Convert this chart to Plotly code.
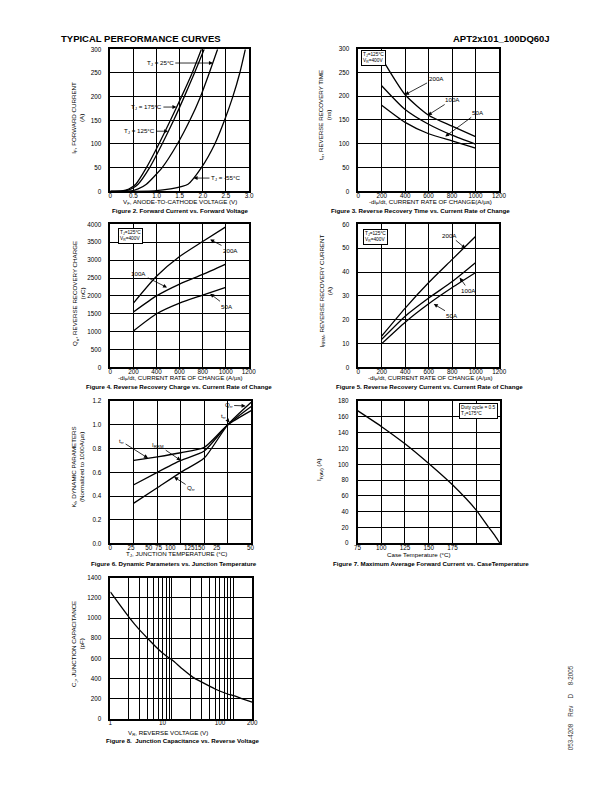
import plotly.graph_objects as go

FONT = "Liberation Sans, Arial, Helvetica, sans-serif"

# ---------------- data ----------------
# Figure 2: forward current vs forward voltage
fwd_current = [0, 1, 5, 15, 50, 100, 150, 200, 250, 300]
vf_175 = [0.0, 0.25, 0.40, 0.55, 0.78, 1.05, 1.30, 1.54, 1.77, 1.97]
vf_125 = [0.0, 0.30, 0.45, 0.60, 0.85, 1.12, 1.37, 1.60, 1.82, 2.03]
vf_25 = [0.0, 0.45, 0.60, 0.78, 1.12, 1.45, 1.72, 1.95, 2.14, 2.32]
vf_m55 = [0.0, 0.95, 1.30, 1.68, 1.97, 2.26, 2.47, 2.65, 2.80, 2.92]
fig2_xticks = [0, 0.5, 1.0, 1.5, 2.0, 2.5, 3.0]
fig2_xtext = ["0", "0.5", "1.0", "1.5", "2.0", "2.5", "3.0"]

# Figures 3-5: vs current rate of change
di_dt = [200, 400, 600, 800, 1000]
trr_200 = [280, 203, 160, 137, 115]
trr_100 = [222, 172, 141, 118, 99]
trr_50 = [181, 145, 121, 106, 91]
qrr_200 = [1800, 2550, 3100, 3520, 3930]
qrr_100 = [1550, 2000, 2330, 2600, 2890]
qrr_50 = [1020, 1500, 1800, 2020, 2240]
irrm_200 = [13.2, 24.9, 35.6, 45.3, 55.0]
irrm_100 = [11.8, 21.5, 29.1, 36.0, 44.0]
irrm_50 = [10.0, 19.0, 26.7, 33.5, 39.8]
didt_ticks = [0, 200, 400, 600, 800, 1000, 1200]

# Figure 6: dynamic parameters vs junction temperature
tj = [25, 50, 75, 100, 125, 150]
kf_trr = [0.70, 0.73, 0.765, 0.81, 1.0, 1.12]
kf_irrm = [0.495, 0.60, 0.70, 0.78, 1.0, 1.155]
kf_qrr = [0.34, 0.47, 0.60, 0.72, 1.0, 1.19]
fig6_grid = [25, 50, 75, 100, 125]
fig6_tickpos = [0, 22, 40.8, 51.3, 63.8, 89.6, 113.4, 149.3]
fig6_ticktext = ["0", "25", "50", "75", "100", "125150", "25", "50"]

# Figure 7: max average forward current vs case temperature
tcase = [75, 100, 125, 150, 175, 200, 212, 220, 225]
if_av = [168, 148, 126, 101, 74, 42, 22, 9, 0]
fig7_xticks = [75, 100, 125, 150, 175]
fig7_xtext = ["75", "100", "125", "150", "175"]
fig7_extra_grid = [200]

# Figure 8: junction capacitance vs reverse voltage
vr = [1, 2, 3, 4, 6, 8, 10, 15, 22, 30, 50, 80, 100, 135, 200]
cj = [1260, 1010, 880, 800, 690, 625, 585, 490, 410, 365, 295, 245, 228, 200, 165]
fig8_tickpos = [1, 7, 60, 200]
fig8_ticktext = ["1", "10", "100", "200"]
fig8_minor_grid = [2, 3, 4, 5, 6, 8, 9, 10, 20, 30, 40, 50, 70, 80, 90, 100]

# ---------------- layout helpers ----------------
W, H = 612, 792


def px(v):
    return v / W


def py(v):
    return 1 - v / H


panels = {
    1: ((108.3, 249.5), (45.7, 189.0)),
    2: ((360.7, 504.0), (45.0, 189.0)),
    3: ((108.3, 249.3), (222.3, 366.7)),
    4: ((360.7, 504.3), (222.3, 366.7)),
    5: ((108.3, 251.7), (400.7, 544.3)),
    6: ((360.0, 505.0), (400.7, 544.0)),
    7: ((108.3, 252.7), (579.0, 721.0)),
}

fig = go.Figure()
LINE = dict(color="black", width=1.3, shape="spline", smoothing=0.6)


def add(x, y, i):
    sx = "" if i == 1 else str(i)
    fig.add_trace(go.Scatter(x=x, y=y, mode="lines", line=LINE,
                             xaxis="x" + sx, yaxis="y" + sx,
                             showlegend=False, hoverinfo="skip"))


for v in (vf_175, vf_125, vf_25, vf_m55):
    add(v, fwd_current, 1)
for s in (trr_200, trr_100, trr_50):
    add(di_dt, s, 2)
for s in (qrr_200, qrr_100, qrr_50):
    add(di_dt, s, 3)
for s in (irrm_200, irrm_100, irrm_50):
    add(di_dt, s, 4)
for s in (kf_trr, kf_irrm, kf_qrr):
    add(tj, s, 5)
add(tcase, if_av, 6)
add(vr, cj, 7)

TICKFONT = dict(family=FONT, size=6.3, color="black")
GRIDMINOR = dict(showgrid=True, gridcolor="black", gridwidth=1, ticks="", tickmode="array")


def base_axis():
    return dict(showline=True, mirror=True, linecolor="black", linewidth=1.5,
                showgrid=True, gridcolor="black", gridwidth=1, zeroline=False,
                ticks="", ticklen=0, tickfont=TICKFONT, fixedrange=True, tickangle=0)


xspecs = {
    1: dict(range=[0, 3.0], tickmode="array", tickvals=fig2_xticks, ticktext=fig2_xtext),
    2: dict(range=[0, 1200], tickmode="array", tickvals=didt_ticks),
    3: dict(range=[0, 1200], tickmode="array", tickvals=didt_ticks),
    4: dict(range=[0, 1200], tickmode="array", tickvals=didt_ticks),
    5: dict(range=[0, 150], tickmode="array", tickvals=fig6_tickpos, ticktext=fig6_ticktext,
            showgrid=False, minor=dict(tickvals=fig6_grid, **GRIDMINOR)),
    6: dict(range=[75, 225], tickmode="array", tickvals=fig7_xticks, ticktext=fig7_xtext,
            minor=dict(tickvals=fig7_extra_grid, **GRIDMINOR)),
    7: dict(type="log", range=[0, 2.30103], tickmode="array", tickvals=fig8_tickpos,
            ticktext=fig8_ticktext, minor=dict(tickvals=fig8_minor_grid, **GRIDMINOR)),
}
yspecs = {
    1: dict(range=[0, 300], dtick=50),
    2: dict(range=[0, 300], dtick=50),
    3: dict(range=[0, 4000], dtick=500),
    4: dict(range=[0, 60], dtick=10),
    5: dict(range=[0, 1.2], dtick=0.2, tickformat=".1f"),
    6: dict(range=[0, 180], dtick=20),
    7: dict(range=[0, 1400], dtick=200),
}

layout = dict(width=W, height=H, margin=dict(l=0, r=0, t=0, b=0), autosize=False,
              paper_bgcolor="white", plot_bgcolor="white", showlegend=False,
              font=dict(family=FONT, color="black"))
for i, ((x0, x1), (y0, y1)) in panels.items():
    sx = "" if i == 1 else str(i)
    xa = base_axis()
    xa.update(domain=[px(x0), px(x1)], anchor="y" + sx, ticklabelstandoff=-3)
    xa.update(xspecs[i])
    ya = base_axis()
    ya.update(domain=[py(y1), py(y0)], anchor="x" + sx, ticklabelstandoff=6)
    ya.update(yspecs[i])
    layout["xaxis" + sx] = xa
    layout["yaxis" + sx] = ya
fig.update_layout(**layout)

ann = []


def text(t, x, y, size=6.2, bold=False, angle=0, xanchor="center", color="black"):
    ann.append(dict(text=("<b>%s</b>" % t) if bold else t, x=px(x), y=py(y), xref="paper",
                    yref="paper", showarrow=False, textangle=angle, xanchor=xanchor,
                    yanchor="middle", font=dict(family=FONT, size=size, color=color)))


# header
text("TYPICAL PERFORMANCE CURVES", 56, 35, size=9.5, bold=True, xanchor="left")
text("APT2x101_100DQ60J", 558, 35, size=9.5, bold=True, xanchor="right")
text("053-4208&nbsp;&nbsp;&nbsp;&nbsp;Rev&nbsp;&nbsp;&nbsp;&nbsp;D&nbsp;&nbsp;&nbsp;&nbsp;&nbsp;8-2005",
     577, 710, size=6.3, angle=-90, color="#333")

# y titles
text("I<sub>F</sub>, FORWARD CURRENT<br>(A)", 75, 115, angle=-90)
text("t<sub>rr</sub>, REVERSE RECOVERY TIME<br>(ns)", 326, 112, angle=-90)
text("Q<sub>rr</sub>, REVERSE RECOVERY CHARGE<br>(nC)", 76, 292, angle=-90)
text("I<sub>RRM</sub>, REVERSE RECOVERY CURRENT<br>(A)", 327, 290, angle=-90)
text("K<sub>f</sub>, DYNAMIC PARAMETERS<br>(Normalized to 1000A/µs)", 75, 467, angle=-90)
text("I<sub>F(AV)</sub> (A)", 321, 470, angle=-90)
text("C<sub>J</sub>, JUNCTION CAPACITANCE<br>(pF)", 75, 646, angle=-90)

# x titles
text("V<sub>F</sub>, ANODE-TO-CATHODE VOLTAGE (V)", 179, 199.5)
text("-di<sub>F</sub>/dt, CURRENT RATE OF CHANGE(A/µs)", 434, 199.5)
text("-di<sub>F</sub>/dt, CURRENT RATE OF CHANGE (A/µs)", 180, 377.5)
text("-di<sub>F</sub>/dt, CURRENT RATE OF CHANGE (A/µs)", 434, 377.5)
text("T<sub>J</sub>, JUNCTION TEMPERATURE (°C)", 176, 555)
text("Case Temperature (°C)", 423, 555)
text("V<sub>R</sub>, REVERSE VOLTAGE (V)", 167, 735)

# captions
text("Figure 2. Forward Current vs. Forward Voltage", 180, 208.5, bold=True)
text("Figure 3. Reverse Recovery Time vs. Current Rate of Change", 424, 208.5, bold=True)
text("Figure 4. Reverse Recovery Charge vs. Current Rate of Change", 178.5, 386, bold=True)
text("Figure 5. Reverse Recovery Current vs. Current Rate of Change", 433, 386, bold=True)
text("Figure 6. Dynamic Parameters vs. Junction Temperature", 173, 564, bold=True)
text("Figure 7. Maximum Average Forward Current vs. CaseTemperature", 435, 564, bold=True)
text("Figure 8.  Junction Capacitance vs. Reverse Voltage", 181.5, 743, bold=True)


def arrow(t, i, head, tail, size=6.2):
    sx = "" if i == 1 else str(i)
    ann.append(dict(text=t, x=head[0], y=head[1], ax=tail[0], ay=tail[1],
                    xref="x" + sx, yref="y" + sx, axref="x" + sx, ayref="y" + sx,
                    showarrow=True, arrowhead=2, arrowsize=1, arrowwidth=0.8,
                    arrowcolor="black", font=dict(family=FONT, size=size, color="black")))


arrow("T<sub>J</sub> = 25°C", 1, (2.22, 271), (1.08, 271))
arrow("T<sub>J</sub> = 175°C", 1, (1.43, 178), (0.78, 178))
arrow("T<sub>J</sub> = 125°C", 1, (1.25, 127), (0.64, 127))
arrow("T<sub>J</sub> = -55°C", 1, (1.80, 28), (2.49, 28))

arrow("200A", 2, (399, 203), (664, 238))
arrow("100A", 2, (594, 160), (804, 193))
arrow("50A", 2, (742, 115), (1021, 166))

arrow("200A", 3, (865, 3575), (1041, 3280))
arrow("100A", 3, (491, 2235), (247, 2633))
arrow("50A", 3, (865, 2060), (1007, 1709))

arrow("200A", 4, (913, 49.9), (780, 55.4))
arrow("100A", 4, (863, 37.7), (941, 32.3))
arrow("50A", 4, (643, 26.6), (802, 21.9))

arrow("t<sub>rr</sub>", 5, (40, 0.72), (12, 0.86))
arrow("I<sub>RRM</sub>", 5, (75, 0.70), (51, 0.83))
arrow("Q<sub>rr</sub>", 5, (68, 0.56), (86, 0.468))
arrow("Q<sub>rr</sub>", 5, (144, 1.16), (126, 1.165))
arrow("t<sub>rr</sub>", 5, (127, 1.02), (121, 1.075))


def box(t, i, x, y, xanchor):
    ann.append(dict(text=t, x=x, y=y, xref="x%d domain" % i, yref="y%d domain" % i,
                    xanchor=xanchor, yanchor="top", showarrow=False, align="left",
                    bgcolor="white", bordercolor="black", borderwidth=1, borderpad=1,
                    font=dict(family=FONT, size=4.8, color="black")))


box("T<sub>J</sub>=125°C<br>V<sub>R</sub>=400V", 2, 0.02, 0.99, "left")
box("T<sub>J</sub>=125°C<br>V<sub>R</sub>=400V", 3, 0.055, 0.976, "left")
box("T<sub>J</sub>=125°C<br>V<sub>R</sub>=400V", 4, 0.037, 0.97, "left")
box("Duty cycle = 0.5<br>T<sub>J</sub>=175°C", 6, 0.985, 0.99, "right")

fig.update_layout(annotations=ann)
fig.write_html("out.html", config={"displayModeBar": False},
               post_script="document.body.style.margin='0';document.body.style.padding='0';")
